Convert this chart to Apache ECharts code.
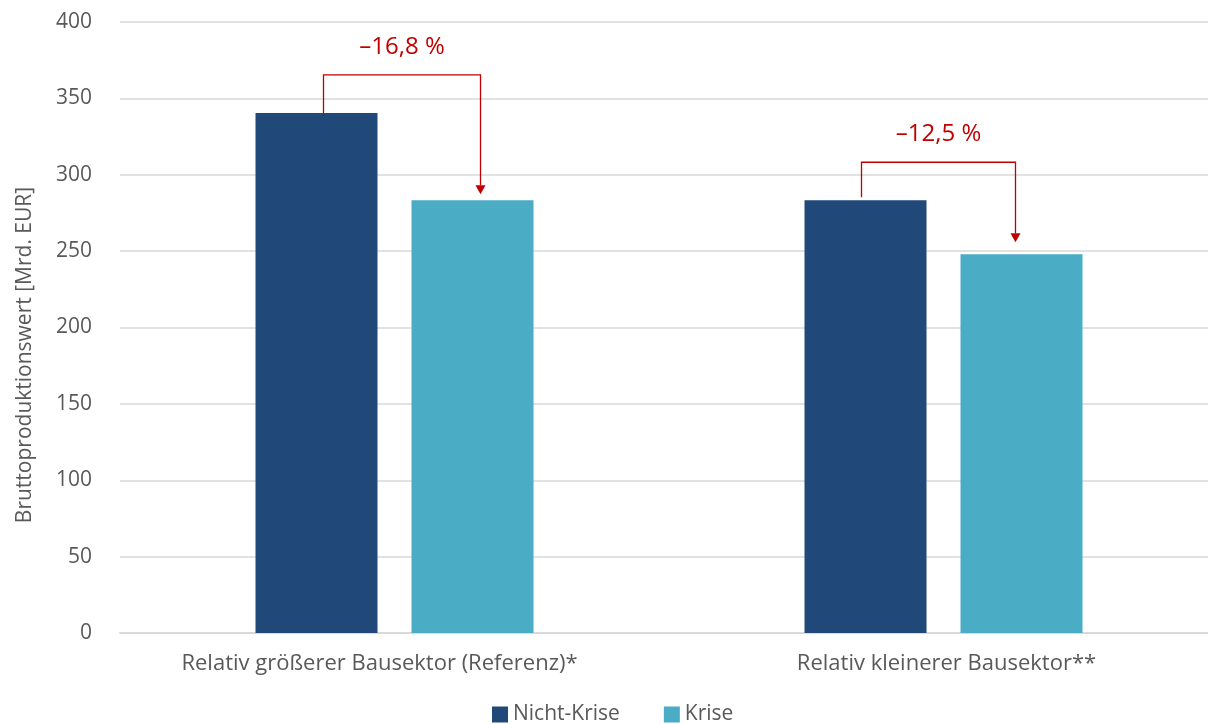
<!DOCTYPE html>
<html>
<head>
<meta charset="utf-8">
<script src="https://cdn.jsdelivr.net/npm/echarts@6/dist/echarts.min.js"></script>
<style>
  html, body { margin: 0; padding: 0; background: #fff; overflow: hidden; }
  #chart { width: 1220px; height: 724px; }
</style>
</head>
<body>
<div id="chart"></div>
<script>
// Gross output of the construction sector, crisis vs. no crisis
const categories = ['Relativ größerer Bausektor (Referenz)*', 'Relativ kleinerer Bausektor**'];
const nichtKrise = [340.5, 283.3];
const krise = [283.3, 247.9];
const changeLabels = ['\u201316,8 %', '\u201312,5 %'];
const yTicks = [0, 400, 50];

const FONT = '"Open Sans", "Noto Sans", sans-serif';
const GREY = '#595959';
const RED = '#c00000';
const BAR_W = 122;
const BAR_GAP = 34;

// per-bracket pixel tweaks: left/right leg shift, start overlap, arrow clearance
const BRACKET_STYLE = [
  { dxL: 7, dxR: 8, start: 3, clear: 6 },
  { dxL: -4, dxR: -6, start: -3, clear: 12 }
];

// bracket arrow data: [categoryIndex, from value, to value, label]
const arrows = categories.map((c, i) => [i, nichtKrise[i], krise[i], changeLabels[i]]);

const chart = echarts.init(document.getElementById('chart'));

function renderArrow(params, api) {
  const idx = api.value(0);
  const s = BRACKET_STYLE[params.dataIndex];
  const pFrom = api.coord([idx, api.value(1)]);
  const pTo = api.coord([idx, api.value(2)]);
  const half = (BAR_W + BAR_GAP) / 2;
  const x1 = pFrom[0] - half + s.dxL;
  const x2 = pTo[0] + half + s.dxR;
  const yTop = pFrom[1] - 38;
  const yStart = pFrom[1] + s.start;
  const yTip = pTo[1] - s.clear;
  const head = 9;
  const lineStyle = { stroke: RED, lineWidth: 1.3, fill: null };
  return {
    type: 'group',
    children: [
      { type: 'polyline', shape: { points: [[x1, yStart], [x1, yTop], [x2, yTop], [x2, yTip - head]] }, style: lineStyle },
      { type: 'polygon', shape: { points: [[x2 - 5, yTip - head], [x2 + 5, yTip - head], [x2, yTip]] }, style: { fill: RED } },
      { type: 'text', x: (x1 + x2) / 2, y: yTop - 28,
        style: { text: api.value(3), fill: RED, font: '24px ' + FONT, align: 'center', verticalAlign: 'middle' } }
    ]
  };
}

chart.setOption({
  animation: false,
  textStyle: { fontFamily: FONT },
  grid: { left: 120, width: 1098, top: 22, bottom: 91 },
  legend: {
    bottom: -6,
    left: 487,
    itemWidth: 16,
    itemHeight: 16,
    itemGap: 44,
    icon: 'rect',
    textStyle: { fontSize: 21, color: GREY, fontFamily: FONT },
    data: ['Nicht-Krise', 'Krise']
  },
  xAxis: {
    type: 'category',
    data: categories,
    axisLine: { show: true, lineStyle: { color: '#d9d9d9', width: 2 } },
    axisTick: { show: false },
    axisLabel: {
      interval: 0,
      hideOverlap: false,
      color: GREY, fontSize: 22, margin: 20, fontFamily: FONT,
      formatter: (v, i) => (i === 0 ? '{a|' + v + '}' : '{b|' + v + '}'),
      rich: {
        a: { fontSize: 22, color: GREY, fontFamily: FONT, padding: [0, 30, 0, 0] },
        b: { fontSize: 22, color: GREY, fontFamily: FONT, padding: [0, 0, 0, 6] }
      }
    }
  },
  yAxis: {
    type: 'value',
    min: yTicks[0],
    max: yTicks[1],
    interval: yTicks[2],
    axisLine: { show: false },
    axisTick: { show: false },
    axisLabel: { color: GREY, fontSize: 21, margin: 28, fontFamily: FONT },
    splitLine: { lineStyle: { color: '#d9d9d9', width: 1.5 } }
  },
  graphic: [{
    type: 'text',
    x: 25,
    y: 355,
    rotation: Math.PI / 2,
    style: {
      text: 'Bruttoproduktionswert [Mrd. EUR]',
      fill: GREY,
      font: '21px ' + FONT,
      align: 'center',
      verticalAlign: 'middle'
    }
  }],
  series: [
    {
      name: 'Nicht-Krise',
      type: 'bar',
      data: nichtKrise,
      barWidth: BAR_W,
      barGap: (BAR_GAP / BAR_W * 100) + '%',
      itemStyle: { color: '#20497a' }
    },
    {
      name: 'Krise',
      type: 'bar',
      data: krise,
      barWidth: BAR_W,
      itemStyle: { color: '#4bacc6' }
    },
    {
      type: 'custom',
      renderItem: renderArrow,
      data: arrows,
      encode: { x: 0, y: [1, 2] },
      silent: true,
      z: 10
    }
  ]
});
</script>
</body>
</html>
